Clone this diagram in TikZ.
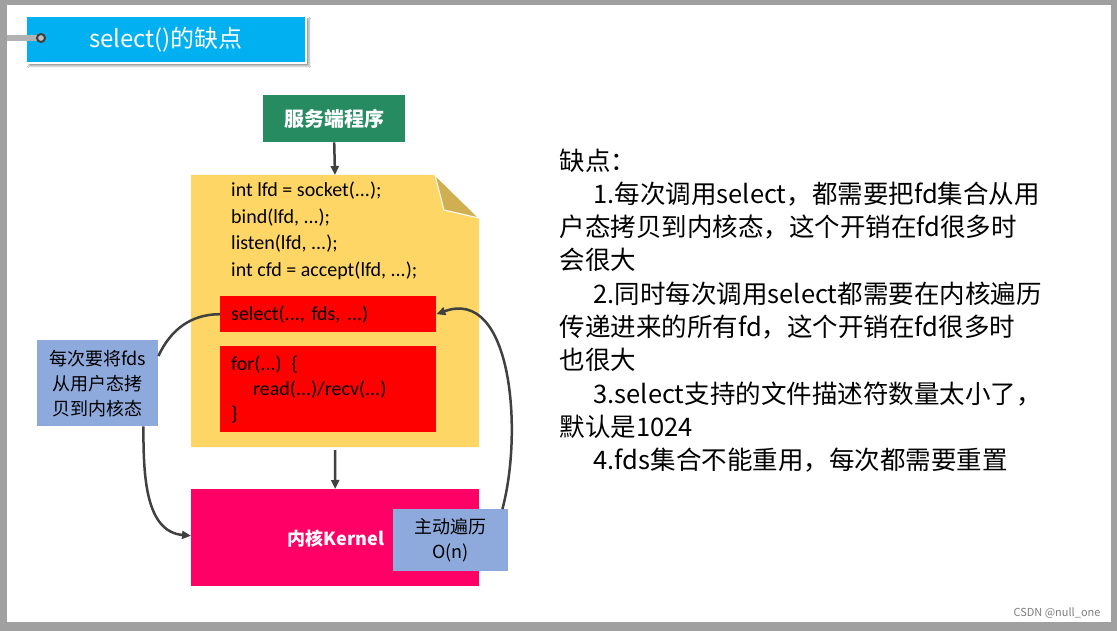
\documentclass[tikz,border=0pt]{standalone}
\usepackage{fontspec}
\setmainfont{Carlito}
\newfontfamily\cjk{Noto Sans CJK SC}
\usetikzlibrary{positioning,calc,arrows.meta,shadows.blur}
\definecolor{framegray}{RGB}{160,160,160}
\definecolor{titleblue}{RGB}{0,176,240}
\definecolor{servergreen}{RGB}{39,139,98}
\definecolor{noteyellow}{RGB}{253,214,102}
\definecolor{foldyellow}{RGB}{207,175,82}
\definecolor{codered}{RGB}{255,0,0}
\definecolor{kernelpink}{RGB}{255,0,102}
\definecolor{tipblue}{RGB}{142,169,219}
\definecolor{darkgray}{RGB}{64,64,64}

\begin{document}
\begin{tikzpicture}[x=1pt,y=-1pt,
    box/.style={
        rectangle,
        inner sep=0pt,
        anchor=north west,
        align=center
    },
    codebox/.style={
        box,
        fill=codered,
        text width=216pt,
        align=left,
        font=\fontsize{20}{25}\selectfont
    },
    tip/.style={
        box,
        fill=tipblue,
        font=\cjk\fontsize{18}{25}\selectfont
    },
    arrow/.style={-{Triangle[length=9pt,width=8pt]},line width=2.5pt,darkgray}
]
    % Frame
    \fill[framegray] (0,0) rectangle (1117,631);
    \fill[white] (7,5) rectangle (1111,622);
    \useasboundingbox (0,0) rectangle (1117,631);

    % Title
    \node[box, fill=titleblue, draw=white, line width=2pt,
        minimum width=280pt, minimum height=47pt,
        blur shadow={shadow xshift=3pt, shadow yshift=-3pt},
        text=white, font=\cjk\fontsize{24}{28}\selectfont] (title) at (25,15) {select()的缺点};
    \fill[gray!60] (7,35) rectangle (38,41);
    \filldraw[fill=gray!50, draw=darkgray, line width=2pt] (41,38) circle (4pt);

    % Server program
    \node[box, fill=servergreen, minimum width=142pt, minimum height=47pt,
        text=white, font=\cjk\bfseries\fontsize{20}{22}\selectfont] (server) at (263,95) {服务端程序};

    % Note with folded corner
    \fill[noteyellow] (191,175) -- (435,175) -- (479,218) -- (479,447) -- (191,447) -- cycle;
    \fill[foldyellow, draw=white, line width=1pt] (435,175) -- (479,218) -- (444,210) -- cycle;
    \coordinate (note) at (335,175);
    \coordinate (notebottom) at (335,450);
    \node[box, align=left, font=\fontsize{20}{26.5}\selectfont] (setup) at (231,182) {
        int lfd = socket(...);\\
        bind(lfd, ...);\\
        listen(lfd, ...);\\
        int cfd = accept(lfd, ...);
    };
    \node[codebox, minimum height=36pt] (select) at (220,296) {\hspace*{11pt}select(..., fds, ...)};
    \node[codebox, minimum height=86pt] (loop) at (220,346) {
        \hspace*{11pt}for(...) \{\\
        \hspace*{33pt}read(...)/recv(...)\\
        \hspace*{11pt}\}
    };

    % Kernel
    \node[box, fill=kernelpink, minimum width=288pt, minimum height=97pt] (kernel) at (191,489) {};
    \node[text=white, font=\cjk\bfseries\fontsize{18}{22}\selectfont] (kerneltext) at (336,539) {内核Kernel};
    \node[tip, minimum width=115pt, minimum height=62pt] (scan) at (393,509) {主动遍历\\O(n)};
    \node[tip, minimum width=121pt, minimum height=86pt] (copy) at (37,340) {每次要将fds\\从用户态拷\\贝到内核态};

    % Arrows
    \draw[arrow] (server.south) -- (note);
    \draw[arrow] (notebottom) -- (kernel.north);
    \draw[line width=2.5pt, darkgray] (select.west) to[out=180, in=65] ($(copy.north east)+(0,16)$);
    \draw[arrow] ($(copy.south east)+(-15,0)$) to[out=-90, in=175] ($(kernel.west)+(0,-2)$);
    \draw[arrow] ($(scan.north east)+(-6,0)$) to[out=75, in=20] (select.east);

    % Drawbacks
    \node[anchor=north west, align=left, font=\cjk\fontsize{25.5}{33.3}\selectfont] (drawbacks) at (556,145) {
        缺点：\\
        \hspace*{34pt}1.每次调用select，都需要把fd集合从用\\
        户态拷贝到内核态，这个开销在fd很多时\\
        会很大\\
        \hspace*{34pt}2.同时每次调用select都需要在内核遍历\\
        传递进来的所有fd，这个开销在fd很多时\\
        也很大\\
        \hspace*{34pt}3.select支持的文件描述符数量太小了，\\
        默认是1024\\
        \hspace*{34pt}4.fds集合不能重用，每次都需要重置
    };

    % Watermark
    \node[anchor=east, text=gray, font=\cjk\fontsize{11}{13}\selectfont] (mark) at (1104,613) {CSDN @null\_one};
\end{tikzpicture}
\end{document}
